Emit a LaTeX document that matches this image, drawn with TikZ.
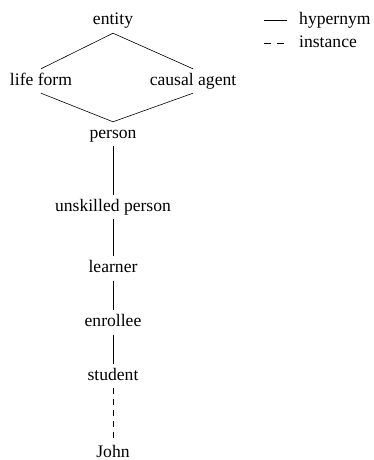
\documentclass[tikz,border=0pt]{standalone}
\usepackage{fontspec}
\setmainfont{Liberation Serif}
\begin{document}
\begin{tikzpicture}[x=1pt,y=-1pt,
  every node/.style={font=\fontsize{17.6}{20}\selectfont},
  term/.style={anchor=base,inner sep=4pt,text height=12pt,text depth=4pt},
  rel/.style={line width=0.6pt},
  inst/.style={line width=0.6pt,dash pattern=on 6pt off 5pt},
  legtext/.style={anchor=base west,inner sep=0pt}]
\useasboundingbox (0,0) rectangle (373,460);

% taxonomy terms
\node[term] (entity) at (113,25) {entity};
\node[term] (lifeform) at (41,85) {life form};
\node[term] (causal) at (193,85) {causal agent};
\node[term] (person) at (113,138) {person};
\node[term] (unskilled) at (113,211) {unskilled person};
\node[term] (learner) at (113,272.5) {learner};
\node[term] (enrollee) at (113,326.5) {enrollee};
\node[term] (student) at (113,380) {student};
\node[term] (john) at (113,457) {John};

% hypernym links
\draw[rel] (entity.south) -- (lifeform.north);
\draw[rel] (entity.south) -- (causal.north);
\draw[rel] (lifeform.south) -- (person.north);
\draw[rel] (causal.south) -- (person.north);
\draw[rel] (person) -- (unskilled);
\draw[rel] (unskilled) -- (learner);
\draw[rel] (learner) -- (enrollee);
\draw[rel] (enrollee) -- (student);
% instance link
\draw[inst] (student) -- (john);

% legend
\node[legtext] (hyp) at (299,25) {hypernym};
\node[legtext] (ins) at (299,48) {instance};
\coordinate (hypA) at (264,20);
\coordinate (hypB) at (287,20);
\coordinate (insA) at (264,43);
\coordinate (insB) at (287,43);
\draw[rel] (hypA) -- (hypB);
\draw[line width=0.6pt,dash pattern=on 7pt off 6pt] (insA) -- (insB);
\end{tikzpicture}
\end{document}
